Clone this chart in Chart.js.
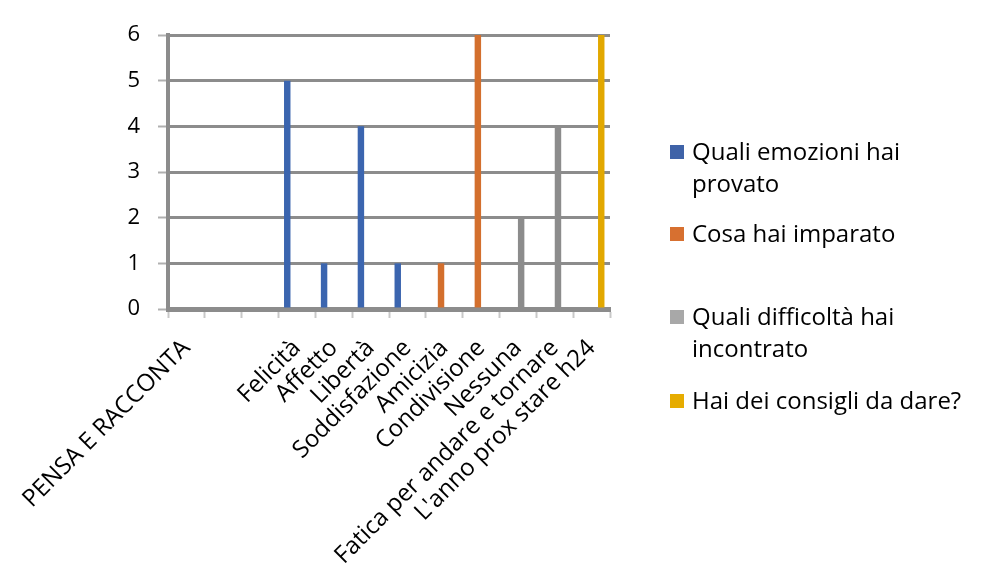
<!DOCTYPE html>
<html>
<head>
<meta charset="utf-8">
<script src="https://cdn.jsdelivr.net/npm/chart.js@4"></script>
<style>
  html, body { margin: 0; padding: 0; background: #fff; }
  #wrap { position: relative; width: 985px; height: 584px; }
  #legend { position: absolute; left: 670px; top: 0; font-family: 'Open Sans', sans-serif; font-size: 24px; color: #000; }
  .item { position: absolute; left: 0; white-space: nowrap; line-height: 32px; }
  .item span.box { position: absolute; left: 0; top: 10px; width: 14px; height: 14px; }
  .item span.txt { position: absolute; left: 22px; top: 0; }
</style>
</head>
<body>
<div id="wrap">
  <canvas id="myBarChart" width="985" height="584"></canvas>
  <div id="legend"></div>
</div>
<script>
// Categories and values
const categories = ['PENSA E RACCONTA', '', '', 'Felicità', 'Affetto', 'Libertà', 'Soddisfazione',
  'Amicizia', 'Condivisione', 'Nessuna', 'Fatica per andare e tornare', "L'anno prox stare h24"];

const emozioni   = [null, null, null, 5, 1, 4, 1, null, null, null, null, null];
const imparato   = [null, null, null, null, null, null, null, 1, 6, null, null, null];
const difficolta = [null, null, null, null, null, null, null, null, null, 2, 4, null];
const consigli   = [null, null, null, null, null, null, null, null, null, null, null, 6];

const seriesNames = [['Quali emozioni hai', 'provato'], ['Cosa hai imparato'],
  ['Quali difficoltà hai', 'incontrato'], ['Hai dei consigli da dare?']];

const yTicks = [0, 1, 2, 3, 4, 5, 6];

const barColors = ['#3B65AF', '#D36F2D', '#8C8C8C', '#E2A800'];
const legendColors = ['#3F63A8', '#D77030', '#A8A8A8', '#E6AC00'];
const legendTops = [135, 217, 300, 384];

var barChart = document.getElementById('myBarChart').getContext('2d');
var myBarChart = new Chart(barChart, {
  type: 'bar',
  data: {
    labels: categories,
    datasets: [emozioni, imparato, difficolta, consigli].map((d, i) => ({
      label: seriesNames[i].join(' '),
      data: d,
      backgroundColor: barColors[i],
      categoryPercentage: 0.7,
      barPercentage: 1
    }))
  },
  options: {
    responsive: false,
    animation: false,
    layout: { padding: { top: 35, right: 375, left: 0, bottom: 0 } },
    plugins: {
      legend: { display: false },
      tooltip: { enabled: false }
    },
    scales: {
      x: {
        grid: { drawOnChartArea: false, drawTicks: true, tickLength: 9, tickColor: '#c8c8c8', tickWidth: 2 },
        border: { color: '#8c8c8c', width: 5 },
        ticks: { color: '#000', font: { family: 'Open Sans', size: 24 }, minRotation: 45, maxRotation: 45, autoSkip: false, padding: 16 },
        afterFit: (scale) => { scale.height = 275; }
      },
      y: {
        min: 0,
        max: 6,
        afterBuildTicks: (scale) => { scale.ticks = yTicks.map(v => ({ value: v })); },
        grid: { color: '#8c8c8c', lineWidth: 3, tickLength: 10, tickColor: '#b0b0b0', tickWidth: 2 },
        border: { color: '#8c8c8c', width: 4 },
        ticks: { color: '#000', font: { family: 'Open Sans', size: 22 }, padding: 18 },
        afterFit: (scale) => { scale.width = 168; }
      }
    }
  }
});

// Legend as text next to the chart
const legend = document.getElementById('legend');
seriesNames.forEach((lines, i) => {
  const item = document.createElement('div');
  item.className = 'item';
  item.style.top = legendTops[i] + 'px';
  item.innerHTML = '<span class="box" style="background:' + legendColors[i] + '"></span>' +
    '<span class="txt">' + lines.join('<br>') + '</span>';
  legend.appendChild(item);
});
</script>
</body>
</html>
